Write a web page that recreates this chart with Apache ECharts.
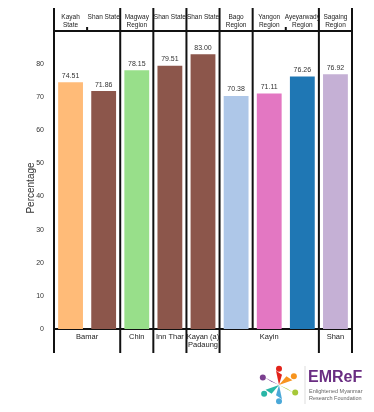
<!DOCTYPE html>
<html><head><meta charset="utf-8">
<script src="https://cdn.jsdelivr.net/npm/echarts@6/dist/echarts.min.js"></script>
<style>html,body{margin:0;padding:0;background:#fff}#c{width:374px;height:412px}</style>
</head><body><div id="c"></div>
<script>
const categories = ['Kayah State','Shan State','Magway Region','Shan State','Shan State','Bago Region','Yangon Region','Ayeyarwady Region','Sagaing Region'];
const topLabels = ['Kayah\nState','Shan State','Magway\nRegion','Shan State','Shan State','Bago\nRegion','Yangon\nRegion','Ayeyarwady\nRegion','Sagaing\nRegion'];
const values = [74.51, 71.86, 78.15, 79.51, 83.00, 70.38, 71.11, 76.26, 76.92];
const colors = ['#ffbb78','#8c564b','#98df8a','#8c564b','#8c564b','#aec7e8','#e377c2','#1f77b4','#c5b0d5'];
const groups = ['Bamar','Chin','Inn Thar','Kayan (a)\nPadaung','Kayin','Shan'];
const groupSpans = [2,1,1,1,3,1];
const topBoundaries = [0,2,3,4,5,6,8,9];
const topMinorTicks = [1,7];
const bottomBoundaries = [0,2,3,4,5,8,9];
const yMax = 90, yStep = 10;
const yTitle = 'Percentage';

const chart = echarts.init(document.getElementById('c'), null, {renderer:'canvas'});
const FONT = 'Liberation Sans, Arial, sans-serif';
chart.setOption({
  animation:false,
  grid:{left:54,right:22,top:31,bottom:83},
  xAxis:[
    {type:'category',data:categories,axisLine:{show:false},axisTick:{show:false},axisLabel:{show:false}},
    {type:'value',min:0,max:categories.length,show:false}
  ],
  yAxis:{type:'value',min:0,max:yMax,interval:yStep,
    name:yTitle,nameLocation:'middle',nameGap:18,nameRotate:90,nameMoveOverlap:false,
    nameTextStyle:{fontSize:10,color:'#333',fontFamily:FONT,padding:[0,16,0,0]},
    axisLine:{show:true,lineStyle:{color:'#111',width:2}},
    axisTick:{show:false},splitLine:{show:false},
    axisLabel:{fontSize:7,color:'#333',margin:10,fontFamily:FONT,
      formatter:v=>v>=yMax?'':String(v)}},
  series:[
    {type:'bar',data:values.map((v,i)=>({value:v,itemStyle:{color:colors[i]}})),
     barWidth:'75%',
     label:{show:true,position:'top',distance:3,fontSize:7,color:'#333',fontFamily:FONT,
       formatter:p=>p.value.toFixed(2)}},
    {type:'line',xAxisIndex:1,data:[],silent:true}
  ]
});

function px(i){return chart.convertToPixel({xAxisIndex:1},i);}
function py(v){return chart.convertToPixel({yAxisIndex:0},v);}
const yTop = py(yMax), yBot = py(0);
const g = [];
const ls = {stroke:'#111',lineWidth:2};
g.push({type:'line',shape:{x1:px(0),y1:yTop,x2:px(categories.length),y2:yTop},style:ls});
g.push({type:'line',shape:{x1:px(0),y1:yBot,x2:px(categories.length),y2:yBot},style:ls});
topBoundaries.forEach(b=>{
  g.push({type:'line',shape:{x1:px(b),y1:8,x2:px(b),y2:yBot},style:ls});
});
topMinorTicks.forEach(b=>{
  g.push({type:'line',shape:{x1:px(b),y1:yTop-4,x2:px(b),y2:yTop},style:ls});
});
bottomBoundaries.forEach(b=>{
  g.push({type:'line',shape:{x1:px(b),y1:yBot,x2:px(b),y2:yBot+24},style:ls});
});
topLabels.forEach((t,i)=>{
  g.push({type:'text',x:px(i+0.5),y:13,style:{text:t,fill:'#222',font:'6.5px '+FONT,align:'center',verticalAlign:'top',lineHeight:8}});
});
let start=0;
groups.forEach((t,k)=>{
  const c = start + groupSpans[k]/2;
  g.push({type:'text',x:px(c),y:yBot+4,style:{text:t,fill:'#222',font:'7.5px '+FONT,align:'center',verticalAlign:'top',lineHeight:8}});
  start += groupSpans[k];
});
// logo
const lx=279, ly=385;
const dots=[['#e2231a',0,-13],['#f7941d',11,-7],['#a6c838',12,6],['#4aa8d8',0,13],['#29b6a6',-11,7],['#7b3f8f',-12,-6]];
dots.forEach(d=>{
  g.push({type:'circle',shape:{cx:lx+d[1]*1.35,cy:ly+d[2]*1.25,r:3},style:{fill:d[0]}});
  g.push({type:'polygon',shape:{points:[[lx,ly],[lx+d[1]*0.95-3,ly+d[2]*0.95-2],[lx+d[1]*0.95+3,ly+d[2]*0.95+2]]},style:{fill:d[0]}});
});
g.push({type:'line',shape:{x1:305,y1:366,x2:305,y2:404},style:{stroke:'#ddd',lineWidth:1}});
g.push({type:'text',x:308,y:370,style:{text:'EMReF',fill:'#6a2d82',font:'bold 16px '+FONT}});
g.push({type:'text',x:309,y:388,style:{text:'Enlightened Myanmar\nResearch Foundation',fill:'#666',font:'5.5px '+FONT,lineHeight:7}});
chart.setOption({graphic:g});
</script></body></html>
